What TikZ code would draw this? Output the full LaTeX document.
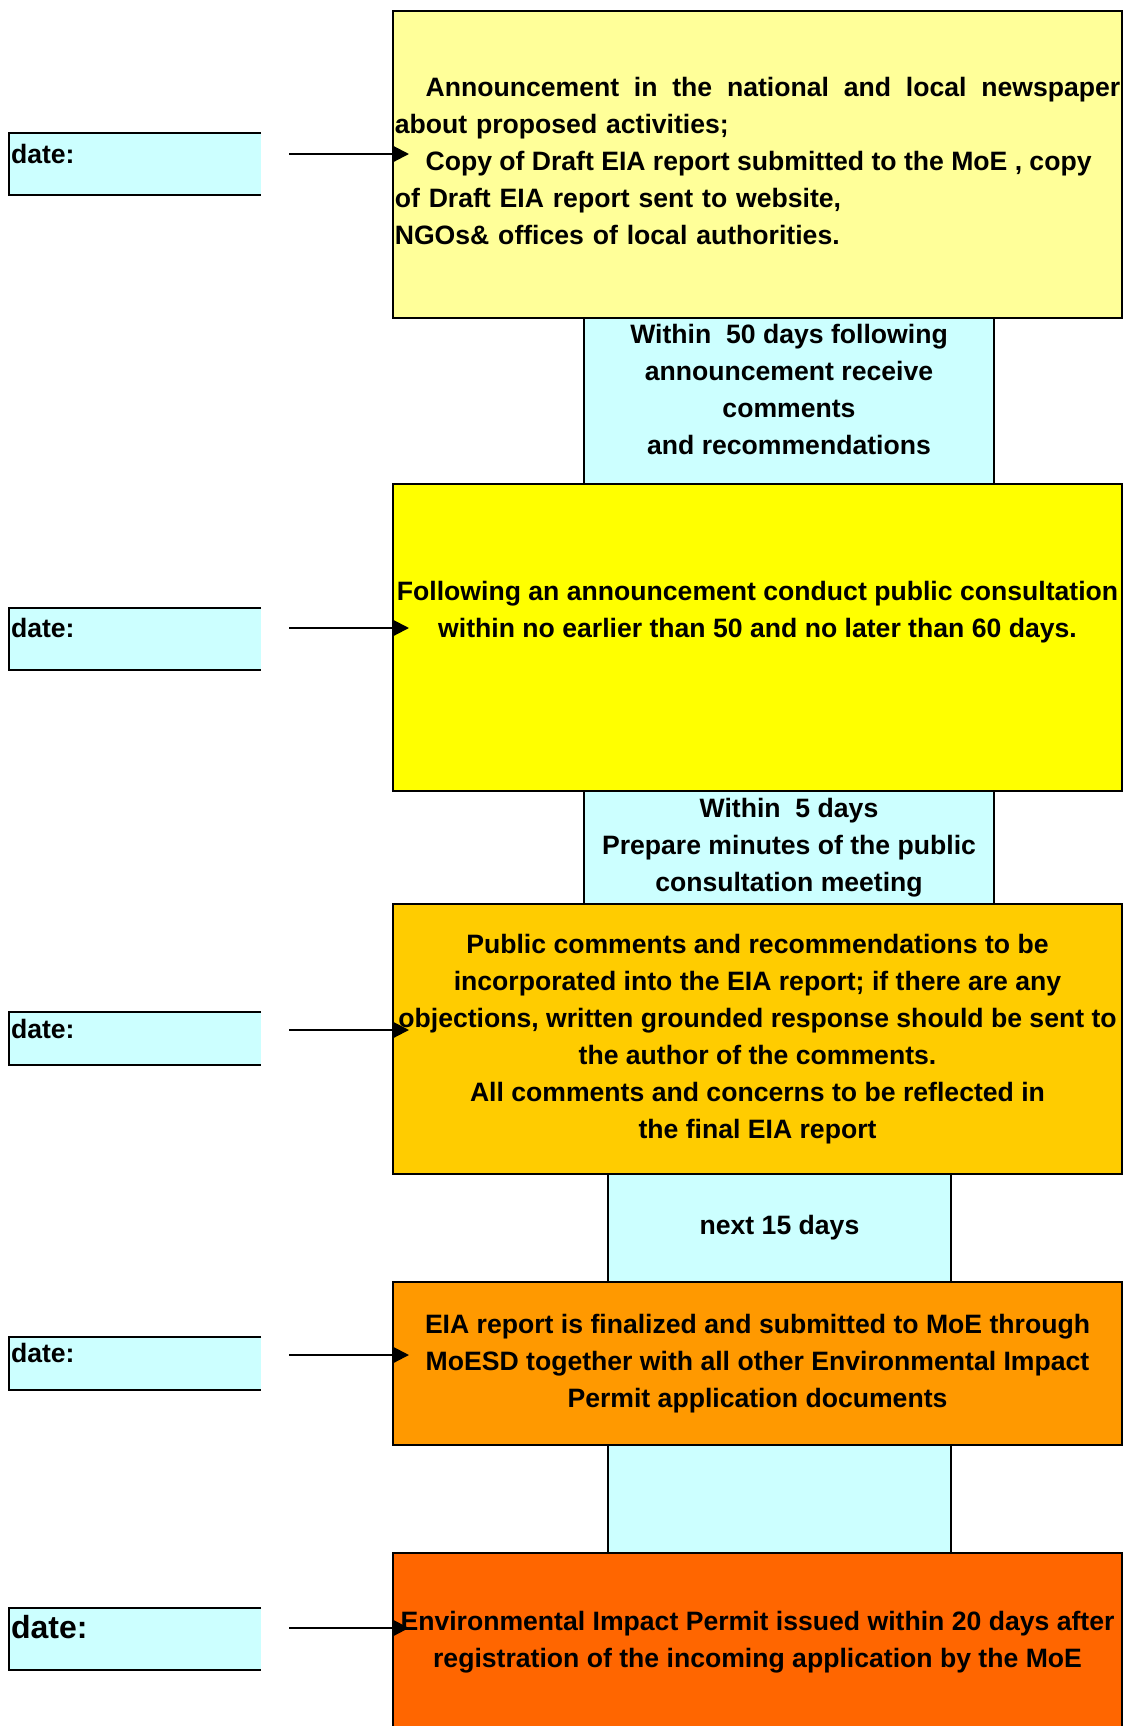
\documentclass[tikz,border=0pt]{standalone}
\usepackage{fontspec}
\setmainfont{Liberation Sans}
\usepackage{tikz}
\usetikzlibrary{positioning,arrows.meta}
\definecolor{paleyellow}{HTML}{FFFF99}
\definecolor{brightyellow}{HTML}{FFFF00}
\definecolor{goldbox}{HTML}{FFCC00}
\definecolor{orangebox}{HTML}{FF9900}
\definecolor{redorange}{HTML}{FF6600}
\definecolor{palecyan}{HTML}{CCFFFF}
\newcommand\spreadline[2]{\makebox[#1][s]{\spaceskip=0.15em plus 1fil\relax #2}}
\tikzset{
  every node/.style={font=\bfseries\fontsize{13.3}{18.5}\selectfont},
  stagebox/.style={draw, line width=1pt, minimum width=364.5pt,
                   inner sep=0pt, outer sep=0pt, align=center},
  timegap/.style={draw, line width=1pt, fill=palecyan, inner sep=0pt,
                  outer sep=0pt, align=center},
  datebox/.style={fill=palecyan, minimum width=126pt, text width=124pt,
                  inner sep=1pt, outer sep=0pt, align=left},
  datearrow/.style={line width=1pt, -{Triangle[length=7.5pt,width=7.5pt]}}
}
\begin{document}
\begin{tikzpicture}
  \useasboundingbox (0,0) rectangle (563pt,-863pt);
  % stages of the procedure
  \node[stagebox, fill=paleyellow, minimum height=153.5pt, text width=362.7pt,
        align=left]
        (b1) at (378.75pt,-82.25pt)
        {\hspace*{15.4pt}\spreadline{347.3pt}{Announcement in the national and local newspaper}\\
         about proposed activities;\\
         \hspace*{15.4pt}\spreadline{333pt}{Copy of Draft EIA report submitted to the MoE , copy}\\
         of Draft EIA report sent to website,\\
         NGOs\& offices of local authorities.\\[-14.7pt]\mbox{}};
  \node[timegap, minimum width=205pt, minimum height=83pt, text depth=11.2pt,
        below=0pt of b1, xshift=15.75pt] (g1)
        {Within\ \ 50 days following\\ announcement receive\\ comments\\ and recommendations};
  \node[stagebox, fill=brightyellow, minimum height=153.5pt, text depth=28.2pt,
        below=0pt of g1, xshift=-15.75pt] (b2)
        {Following an announcement conduct public consultation\\
         within no earlier than 50 and no later than 60 days.};
  \node[timegap, minimum width=205pt, minimum height=56.5pt, text depth=2.7pt,
        below=0pt of b2, xshift=15.75pt] (g2)
        {Within\ \ 5 days\\ Prepare minutes of the public\\ consultation meeting};
  \node[stagebox, fill=goldbox, minimum height=135pt,
        below=0pt of g2, xshift=-15.75pt] (b3)
        {Public comments and recommendations to be\\
         incorporated into the EIA report; if there are any\\
         objections, written grounded response should be sent to\\
         the author of the comments.\\
         All comments and concerns to be reflected in\\
         the final EIA report};
  \node[timegap, minimum width=171.5pt, minimum height=54pt,
        below=0pt of b3, xshift=11pt] (g3) {next 15 days};
  \node[stagebox, fill=orangebox, minimum height=81.5pt,
        below=0pt of g3, xshift=-11pt] (b4)
        {EIA report is finalized and submitted to MoE through\\
         MoESD together with all other Environmental Impact\\
         Permit application documents};
  \node[timegap, minimum width=171.5pt, minimum height=54pt,
        below=0pt of b4, xshift=11pt] (g4) {};
  \node[stagebox, fill=redorange, minimum height=100pt, text depth=13.7pt,
        below=0pt of g4, xshift=-11pt] (b5)
        {Environmental Impact Permit issued within 20 days after\\
         registration of the incoming application by the MoE};
  % date fields
  \node[datebox, minimum height=31pt, text height=14.2pt, text depth=14.8pt] (d1) at (67.5pt,-82pt) {date:};
  \node[datebox, minimum height=31pt, text height=14.2pt, text depth=14.8pt] (d2) at (67.5pt,-319.25pt) {date:};
  \node[datebox, minimum height=26.5pt, text height=12pt, text depth=12.5pt] (d3) at (67.5pt,-519.25pt) {date:};
  \node[datebox, minimum height=26.5pt, text height=12pt, text depth=12.5pt] (d4) at (67.5pt,-681.5pt) {date:};
  \node[datebox, minimum height=31pt, text height=14pt, text depth=15pt,
        font=\bfseries\fontsize{16}{19}\selectfont] (d5) at (67.5pt,-819.5pt) {date:};
  \foreach \d in {d1,d2,d3,d4,d5}
    \draw[line width=1pt] (\d.north east) -- (\d.north west) -- (\d.south west) -- (\d.south east);
  % arrows
  \coordinate (a1) at (144.5pt,-77pt);
  \coordinate (a2) at (144.5pt,-314pt);
  \coordinate (a3) at (144.5pt,-515pt);
  \coordinate (a4) at (144.5pt,-677.5pt);
  \coordinate (a5) at (144.5pt,-814pt);
  \draw[datearrow] (a1) -- ([xshift=8pt]a1 -| b1.west);
  \draw[datearrow] (a2) -- ([xshift=8pt]a2 -| b2.west);
  \draw[datearrow] (a3) -- ([xshift=8pt]a3 -| b3.west);
  \draw[datearrow] (a4) -- ([xshift=8pt]a4 -| b4.west);
  \draw[datearrow] (a5) -- ([xshift=8pt]a5 -| b5.west);
\end{tikzpicture}
\end{document}
